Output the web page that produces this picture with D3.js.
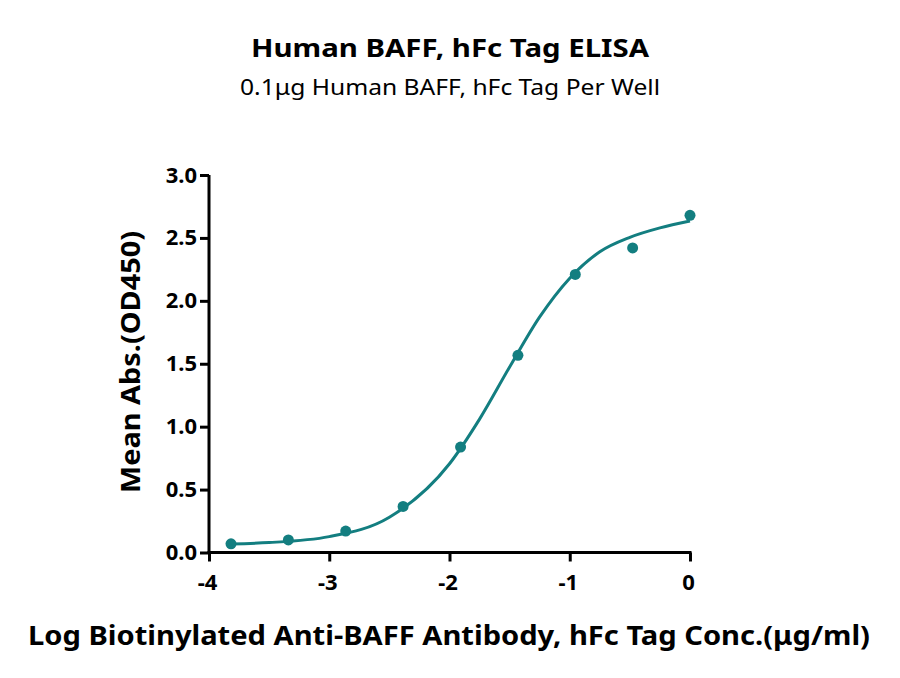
<!DOCTYPE html>
<html><head><meta charset="utf-8">
<script src="https://cdn.jsdelivr.net/npm/d3@7"></script>
<style>body{margin:0;background:#fff}svg{display:block}</style>
</head><body>
<svg id="c" width="900" height="678"></svg>
<script>
// Data
const logConc = [-3.817, -3.340, -2.863, -2.386, -1.908, -1.431, -0.954, -0.477, 0.0];
const meanAbs = [0.069, 0.10, 0.17, 0.366, 0.838, 1.567, 2.21, 2.42, 2.68];
// Fitted curve
const curveX = [-3.82, -3.5, -3.0, -2.5, -2.0, -1.75, -1.5, -1.25, -1.0, -0.75, -0.5, -0.25, 0.0];
const curveY = [0.068, 0.079, 0.126, 0.28, 0.705, 1.06, 1.474, 1.872, 2.18, 2.39, 2.505, 2.58, 2.635];
const xTicks = [-4, -3, -2, -1, 0];
const yTicks = [0, 0.5, 1.0, 1.5, 2.0, 2.5, 3.0];

const title = "Human BAFF, hFc Tag ELISA";
const subtitle = "0.1μg Human BAFF, hFc Tag Per Well";
const xLabel = "Log Biotinylated Anti-BAFF Antibody, hFc Tag Conc.(μg/ml)";
const yLabel = "Mean Abs.(OD450)";

const color = "#137e80";
const font = "'Noto Sans', 'Open Sans', sans-serif";
const svg = d3.select("#c");

const x = d3.scaleLinear().domain([-4, 0]).range([209, 690]);
const y = d3.scaleLinear().domain([0, 3]).range([552.5, 175]);

svg.append("text").attr("x", 450).attr("y", 57).attr("text-anchor", "middle")
  .attr("font-family", font).attr("font-weight", "bold").attr("font-size", 25)
  .attr("textLength", 398).attr("lengthAdjust", "spacingAndGlyphs").text(title);
svg.append("text").attr("x", 450).attr("y", 95).attr("text-anchor", "middle")
  .attr("font-family", font).attr("font-size", 21)
  .attr("textLength", 420).attr("lengthAdjust", "spacingAndGlyphs").text(subtitle);

// axes
const fmtX = d => String(d);
const gx = svg.append("g").attr("transform", `translate(0,${y(0)})`)
  .call(d3.axisBottom(x).tickValues(xTicks).tickFormat(fmtX).tickSize(9).tickPadding(13).tickSizeOuter(0));
const gy = svg.append("g").attr("transform", `translate(${x(-4)},0)`)
  .call(d3.axisLeft(y).tickValues(yTicks).tickFormat(d => d.toFixed(1)).tickSize(9).tickPadding(3).tickSizeOuter(0));
[gx, gy].forEach(g => {
  g.select(".domain").attr("stroke", "#000").attr("stroke-width", 3);
  g.selectAll(".tick line").attr("stroke", "#000").attr("stroke-width", 3);
  g.selectAll(".tick text").attr("fill", "#000").attr("font-family", font)
    .attr("font-weight", "bold").attr("font-size", 22);
});
gx.selectAll(".tick text").attr("dx", "-2");
gx.select(".domain").attr("d", `M${x(-4)-1.5},0H${x(0)+1.5}`);
gy.select(".domain").attr("d", `M0,${y(0)+1.5}V${y(3)}`);

// curve
svg.append("path")
  .datum(curveX.map((v, i) => [v, curveY[i]]))
  .attr("fill", "none").attr("stroke", color).attr("stroke-width", 3)
  .attr("d", d3.line().x(d => x(d[0])).y(d => y(d[1])).curve(d3.curveMonotoneX));

// points
svg.append("g").selectAll("circle")
  .data(logConc.map((v, i) => [v, meanAbs[i]]))
  .join("circle").attr("cx", d => x(d[0])).attr("cy", d => y(d[1]))
  .attr("r", 5.5).attr("fill", color);

// labels
svg.append("text").attr("x", 449).attr("y", 645).attr("text-anchor", "middle")
  .attr("font-family", font).attr("font-weight", "bold").attr("font-size", 27)
  .attr("textLength", 842).attr("lengthAdjust", "spacingAndGlyphs").text(xLabel);
svg.append("text").attr("transform", "translate(140,362) rotate(-90)").attr("text-anchor", "middle")
  .attr("font-family", font).attr("font-weight", "bold").attr("font-size", 26)
  .attr("textLength", 262).attr("lengthAdjust", "spacingAndGlyphs").text(yLabel);
</script>
</body></html>
